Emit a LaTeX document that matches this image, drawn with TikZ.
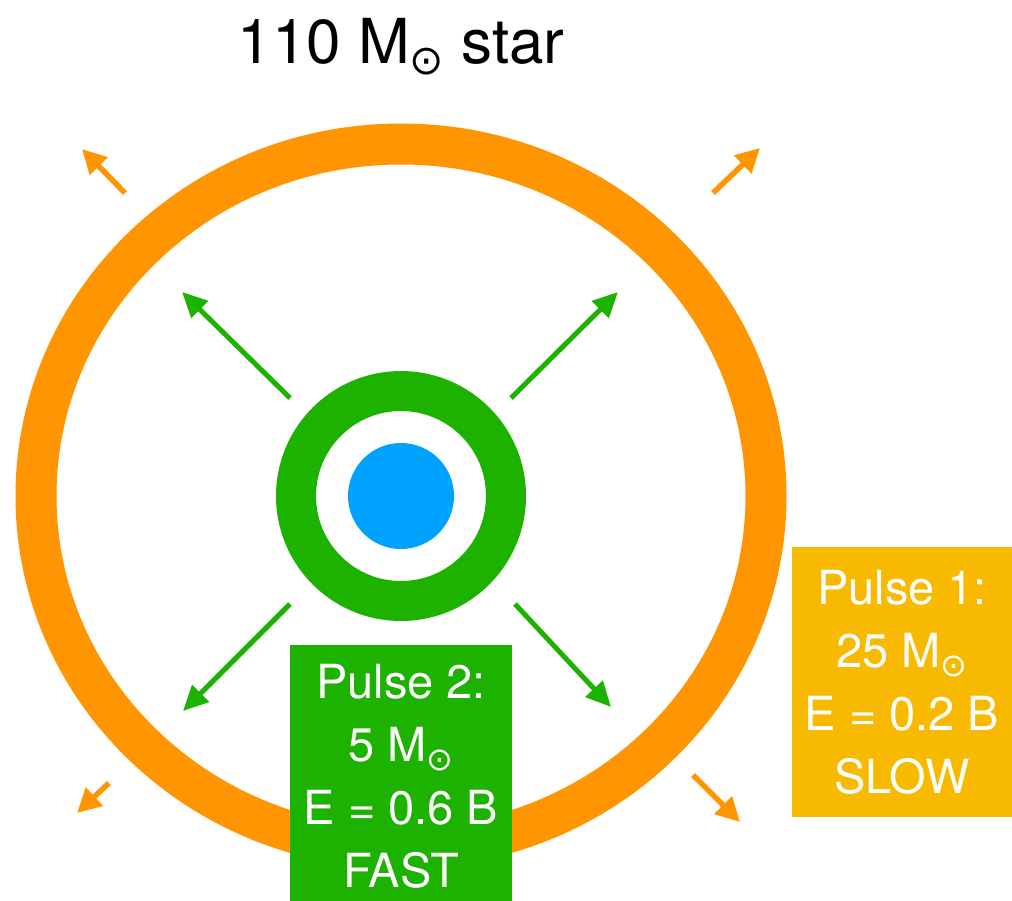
\documentclass[tikz,border=0pt]{standalone}
\usepackage{fontspec}
\setmainfont{TeX Gyre Heros}
\newfontfamily\symfont{DejaVu Sans}
\usetikzlibrary{arrows.meta}
\definecolor{ringorange}{HTML}{FF9500}
\definecolor{ringgreen}{HTML}{1DB100}
\definecolor{coreblue}{HTML}{00A2FF}
\definecolor{boxyellow}{HTML}{F8BA00}
\newcommand{\sunsym}[2]{\raisebox{#2}{\symfont\fontsize{#1}{#1}\selectfont ⊙}}
\tikzset{
  greenarrow/.style={draw=ringgreen, line width=5pt, -{Triangle[length=25pt,width=23pt]}},
  orangearrow/.style={draw=ringorange, line width=5.5pt, -{Triangle[length=24pt,width=24pt]}},
  pulsebox/.style={inner sep=0pt, text=white, align=center, font=\fontsize{47}{63}\selectfont},
}
\begin{document}
\begin{tikzpicture}[x=1pt,y=-1pt]
\useasboundingbox[fill=white] (0,0) rectangle (1012,900);
% title
\node[anchor=base, font=\fontsize{62}{70}\selectfont] (title) at (401,63) {110 M\sunsym{41}{-11pt} star};
% outer shell
\coordinate (c) at (401,496);
\draw[ringorange, line width=41pt] (c) ellipse [x radius=365, y radius=352];
% core
\draw[ringgreen, line width=40pt] (c) circle [radius=105];
\fill[coreblue] (c) circle [radius=53];
% green arrows
\coordinate (g1s) at (290,398); \coordinate (g1e) at (182,292);
\coordinate (g2s) at (511,398); \coordinate (g2e) at (618,292);
\coordinate (g3s) at (290,604); \coordinate (g3e) at (183,711);
\coordinate (g4s) at (515,604); \coordinate (g4e) at (611,707);
\draw[greenarrow] (g1s) -- (g1e);
\draw[greenarrow] (g2s) -- (g2e);
\draw[greenarrow] (g3s) -- (g3e);
\draw[greenarrow] (g4s) -- (g4e);
% orange arrows
\coordinate (o1s) at (125,193); \coordinate (o1e) at (82,149);
\coordinate (o2s) at (713,193); \coordinate (o2e) at (760,148);
\coordinate (o3s) at (109,783); \coordinate (o3e) at (77,813);
\coordinate (o4s) at (693,775); \coordinate (o4e) at (740,822);
\draw[orangearrow] (o1s) -- (o1e);
\draw[orangearrow] (o2s) -- (o2e);
\draw[orangearrow] (o3s) -- (o3e);
\draw[orangearrow] (o4s) -- (o4e);
% boxes
\node[pulsebox, fill=boxyellow, minimum width=220pt, minimum height=270pt] (p1) at (902,682)
  {Pulse 1:\\25 M\sunsym{32}{-9pt}\\E = 0.2 B\\SLOW};
\node[pulsebox, fill=ringgreen, minimum width=222pt, minimum height=262pt] (p2) at (401,776)
  {Pulse 2:\\5 M\sunsym{32}{-9pt}\\E = 0.6 B\\FAST};
\end{tikzpicture}
\end{document}
